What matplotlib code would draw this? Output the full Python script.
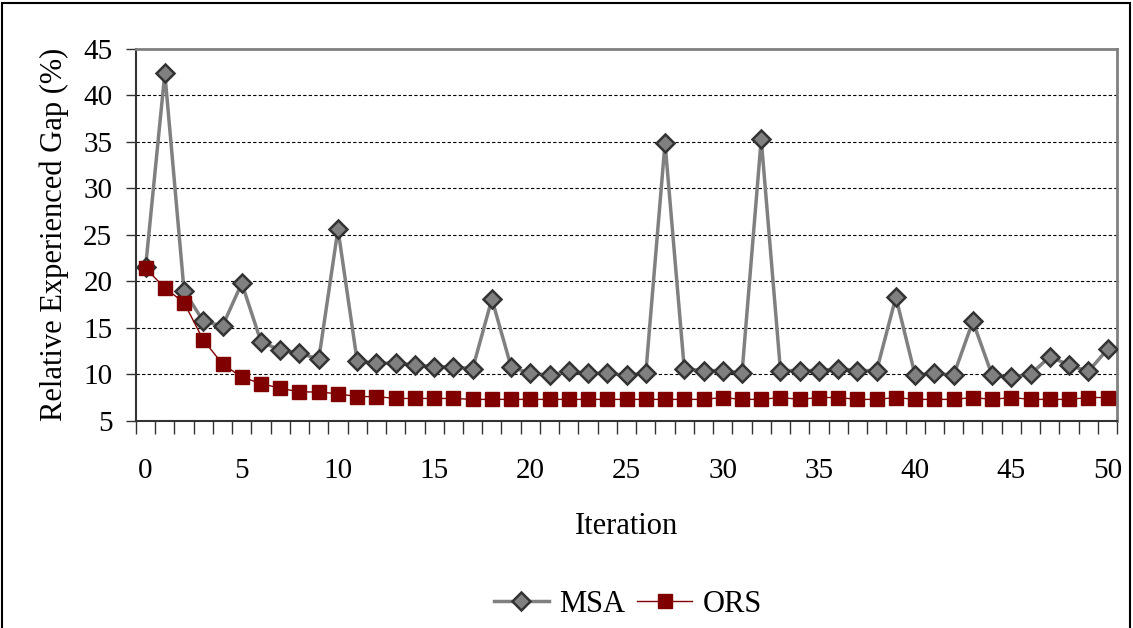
import numpy as np
import matplotlib
matplotlib.use('Agg')
import matplotlib.pyplot as plt
from matplotlib.patches import Rectangle

plt.rcParams['font.family'] = ['Liberation Serif', 'DejaVu Serif']

# Data
iteracion = np.arange(51)
msa = [21.5, 42.4, 19.0, 15.7, 15.2, 19.8, 13.5, 12.6, 12.3, 11.6,
       25.6, 11.4, 11.2, 11.2, 11.0, 10.8, 10.8, 10.6, 18.1, 10.8,
       10.1, 9.9, 10.3, 10.1, 10.1, 9.9, 10.1, 34.9, 10.6, 10.4,
       10.4, 10.1, 35.3, 10.4, 10.4, 10.4, 10.6, 10.4, 10.4, 18.3,
       9.9, 10.1, 9.9, 15.7, 9.9, 9.7, 10.0, 11.9, 11.0, 10.3,
       12.7]
ors = [21.4, 19.3, 17.7, 13.7, 11.1, 9.7, 9.0, 8.5, 8.1, 8.1,
       7.9, 7.6, 7.6, 7.4, 7.4, 7.4, 7.4, 7.3, 7.3, 7.3,
       7.3, 7.3, 7.3, 7.3, 7.3, 7.3, 7.3, 7.3, 7.3, 7.3,
       7.5, 7.3, 7.3, 7.5, 7.3, 7.5, 7.5, 7.3, 7.3, 7.5,
       7.3, 7.3, 7.3, 7.5, 7.3, 7.5, 7.3, 7.3, 7.3, 7.5,
       7.5]
etiquetas_x = np.arange(0, 51, 5)
etiquetas_y = np.arange(5, 46, 5)

fig = plt.figure(figsize=(11.33, 6.28), dpi=100)
ax = fig.add_axes([0.120, 0.330, 0.866, 0.592])

# Lineas
ax.plot(iteracion, msa, color='#808080', linewidth=2.5, marker='D',
        markersize=9, markerfacecolor='#808080', markeredgecolor='#333333',
        markeredgewidth=1.8, label='MSA', zorder=3)
ax.plot(iteracion, ors, color='#800000', linewidth=1.0, marker='s',
        markersize=10, markerfacecolor='#800000', markeredgecolor='#800000',
        label='ORS', zorder=4)

ax.set_xlim(-0.5, 50.5)
ax.set_ylim(5, 45)
ax.set_yticks(etiquetas_y)
ax.set_xticks(etiquetas_x)
ax.set_xticks(np.arange(-0.5, 51, 1), minor=True)
ax.tick_params(axis='x', which='major', length=0, pad=27, labelsize=21)
ax.tick_params(axis='x', which='minor', length=9, width=1, direction='out', color='#333333')
ax.tick_params(axis='y', length=7, width=1, direction='out', labelsize=21, pad=10, color='#333333')

# Cuadricula
for v in etiquetas_y[1:-1]:
    ax.axhline(v, color='black', linewidth=0.8, linestyle=(0, (3, 2)), zorder=1)

for s in ['left', 'bottom']:
    ax.spines[s].set_color('#333333')
    ax.spines[s].set_linewidth(1.5)
for s in ['top', 'right']:
    ax.spines[s].set_color('#808080')
    ax.spines[s].set_linewidth(2)

ax.set_xlabel('Iteration', fontsize=22, labelpad=20)
ax.set_ylabel('Relative Experienced Gap (%)', fontsize=22, labelpad=10)

fig.legend(*ax.get_legend_handles_labels(), loc='center',
           bbox_to_anchor=(628 / 1133, 0.038), ncol=2,
           frameon=False, fontsize=22, handlelength=1.8, columnspacing=0.4,
           handletextpad=0.35)

# Marco exterior
fig.patches.append(Rectangle((0.002, -0.01), 0.995, 1.005, transform=fig.transFigure,
                             fill=False, edgecolor='black', linewidth=1.5))

fig.savefig('out.png', dpi=100)
